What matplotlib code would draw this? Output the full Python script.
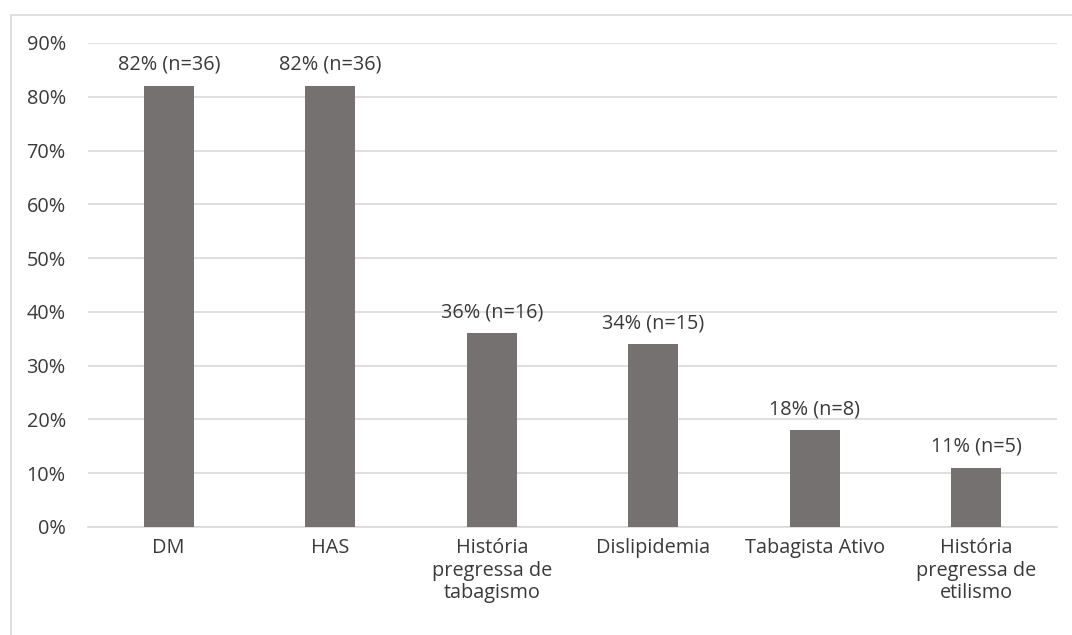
import matplotlib.pyplot as plt
from matplotlib.patches import Rectangle
import numpy as np

# DATA
categories = ['DM', 'HAS', 'História\npregressa de\ntabagismo', 'Dislipidemia',
              'Tabagista Ativo', 'História\npregressa de\netilismo']
percent = [82, 82, 36, 34, 18, 11]
counts = [36, 36, 16, 15, 8, 5]

BAR_COLOR = '#767171'
TEXT_COLOR = '#3a3a3a'
GRID_COLOR = '#d9d9d9'
FS = 14.3

plt.rcParams['font.family'] = ['Open Sans', 'DejaVu Sans']

fig = plt.figure(figsize=(10.72, 6.35), dpi=100)
ax = fig.add_axes([88 / 1072, 1 - 527 / 635, 969 / 1072, 484 / 635])

# chart frame (cropped at right and bottom)
fig.patches.append(Rectangle((11 / 1072, -0.1), 1.2, 1 - 15 / 635 + 0.1,
                             transform=fig.transFigure, fill=False,
                             edgecolor=GRID_COLOR, linewidth=1.2))

x = np.arange(len(categories))
ax.bar(x, percent, width=0.31, color=BAR_COLOR, zorder=3)

for xi, p, n in zip(x, percent, counts):
    ax.annotate(f'{p}% (n={n})', (xi, p), xytext=(0, 8), textcoords='offset points',
                ha='center', va='bottom', fontsize=FS, color=TEXT_COLOR)

ax.set_xlim(-0.5, len(categories) - 0.5)
ax.set_ylim(0, 90)
ax.set_yticks(np.arange(0, 91, 10))
ax.set_yticklabels([f'{v}%' for v in range(0, 91, 10)])
ax.set_xticks(x)
ax.set_xticklabels(categories, linespacing=1.17)

ax.tick_params(axis='both', length=0, labelsize=FS, colors=TEXT_COLOR)
ax.tick_params(axis='y', pad=16)
ax.tick_params(axis='x', pad=8)
ax.grid(axis='y', color=GRID_COLOR, linewidth=1.2, zorder=0)
for side in ['top', 'right', 'left']:
    ax.spines[side].set_visible(False)
ax.spines['bottom'].set_color(GRID_COLOR)
ax.spines['bottom'].set_linewidth(1.2)

fig.savefig('out.png', dpi=100)
